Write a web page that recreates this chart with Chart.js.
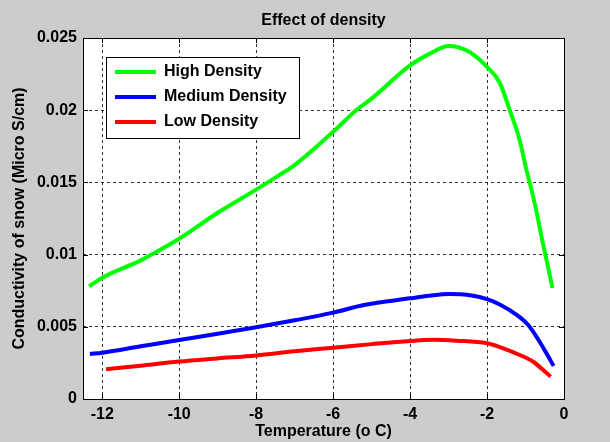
<!DOCTYPE html>
<html>
<head>
<meta charset="utf-8">
<script src="https://cdn.jsdelivr.net/npm/chart.js@4/dist/chart.umd.min.js"></script>
<style>
  html, body { margin: 0; padding: 0; background: #cccccc; }
  #wrap { width: 610px; height: 442px; }
</style>
</head>
<body>
<div id="wrap"><canvas id="snow" width="610" height="442"></canvas></div>
<script>
// values
const highTemp = [-12.34, -12, -11, -10.72, -10, -9, -8, -7.4, -7, -6, -5.4, -5, -4, -3.5, -3, -2.5, -2, -1.67, -1.41, -1.15, -0.98, -0.8, -0.67, -0.59, -0.46, -0.3];
const highCond = [0.0078, 0.0084, 0.0096, 0.0100, 0.0111, 0.0129, 0.0145, 0.0155, 0.0162, 0.0185, 0.0200, 0.0208, 0.0231, 0.0239, 0.02445, 0.0241, 0.0230, 0.0219, 0.0200, 0.0179, 0.0159, 0.0140, 0.0124, 0.0113, 0.0097, 0.0077];

const medTemp = [-12.32, -12, -11, -10, -9, -8, -7, -6, -5.2, -4, -3.5, -3, -2.4, -2, -1.67, -1.24, -0.93, -0.67, -0.46, -0.27];
const medCond = [0.00312, 0.00321, 0.00365, 0.00409, 0.00452, 0.00497, 0.00545, 0.00598, 0.00651, 0.00697, 0.00715, 0.00727, 0.00717, 0.00692, 0.00655, 0.00585, 0.00512, 0.00412, 0.00318, 0.00229];

const lowTemp = [-11.9, -11, -10, -9, -8, -7, -6, -5, -4, -3.4, -2.8, -2, -1.58, -1.15, -0.8, -0.54, -0.35];
const lowCond = [0.00206, 0.00231, 0.00259, 0.00281, 0.00302, 0.00331, 0.00355, 0.00380, 0.00402, 0.00410, 0.00404, 0.00386, 0.00351, 0.00305, 0.00258, 0.00201, 0.00155];

const seriesNames = ['High Density', 'Medium Density', 'Low Density'];
const xTicks = [-12, -10, -8, -6, -4, -2, 0];

const font = { family: '"Liberation Sans", Arial, sans-serif', size: 16, weight: 'bold' };

function points(xs, ys) {
  return xs.map((x, i) => ({ x: x, y: ys[i] }));
}

function series(label, xs, ys, color) {
  return {
    label: label,
    data: points(xs, ys),
    borderColor: color,
    backgroundColor: color,
    borderWidth: 4,
    pointRadius: 0,
    cubicInterpolationMode: 'monotone'
  };
}

// grey figure, white axes, boxed axes with inward ticks, framed legend
const matlabLook = {
  id: 'matlabLook',
  beforeDraw(chart) {
    const { ctx, chartArea: a } = chart;
    ctx.save();
    ctx.fillStyle = '#cccccc';
    ctx.fillRect(0, 0, chart.width, chart.height);
    ctx.fillStyle = '#ffffff';
    ctx.fillRect(a.left, a.top, a.right - a.left, a.bottom - a.top);
    ctx.restore();
  },
  afterLayout(chart) {
    const lg = chart.legend;
    const w = lg.width, h = lg.height;
    lg.left = 106; lg.top = 55;
    lg.right = lg.left + w; lg.bottom = lg.top + h;
  },
  beforeDatasetsDraw(chart) {
    const { ctx } = chart;
    const hb = chart.legend.legendHitBoxes;
    if (!hb || !hb.length) return;
    const last = hb[hb.length - 1];
    const l = hb[0].left - 9;
    const t = hb[0].top - 7;
    const r = Math.max(...hb.map(b => b.left + b.width)) + 12;
    const b = last.top + last.height + 8;
    ctx.save();
    ctx.fillStyle = '#ffffff';
    ctx.fillRect(l, t, r - l, b - t);
    ctx.strokeStyle = '#000000';
    ctx.lineWidth = 1;
    ctx.strokeRect(Math.round(l) + 0.5, Math.round(t) + 0.5, Math.round(r - l), Math.round(b - t));
    ctx.restore();
    chart.legend.draw();
  },
  afterDraw(chart) {
    const { ctx, chartArea: a, scales } = chart;
    ctx.save();
    ctx.strokeStyle = '#000000';
    ctx.lineWidth = 1;
    ctx.beginPath();
    scales.x.ticks.forEach(t => {
      const px = Math.round(scales.x.getPixelForValue(t.value)) + 0.5;
      ctx.moveTo(px, a.bottom); ctx.lineTo(px, a.bottom - 5);
      ctx.moveTo(px, a.top); ctx.lineTo(px, a.top + 5);
    });
    scales.y.ticks.forEach(t => {
      const py = Math.round(scales.y.getPixelForValue(t.value)) + 0.5;
      ctx.moveTo(a.left, py); ctx.lineTo(a.left + 5, py);
      ctx.moveTo(a.right, py); ctx.lineTo(a.right - 5, py);
    });
    ctx.stroke();
    ctx.strokeRect(Math.round(a.left) + 0.5, Math.round(a.top) + 0.5,
      Math.round(a.right - a.left), Math.round(a.bottom - a.top));
    ctx.restore();
  }
};

Chart.defaults.color = '#000000';

new Chart(document.getElementById('snow'), {
  type: 'line',
  data: {
    datasets: [
      series(seriesNames[0], highTemp, highCond, '#00ff00'),
      series(seriesNames[1], medTemp, medCond, '#0000ff'),
      series(seriesNames[2], lowTemp, lowCond, '#ff0000')
    ]
  },
  options: {
    responsive: false,
    animation: false,
    events: [],
    layout: { padding: { left: 0, top: 0, right: 46, bottom: 0 } },
    plugins: {
      title: {
        display: true,
        text: 'Effect of density',
        fullSize: false,
        color: '#000000',
        font: font,
        padding: { top: 11, bottom: 7.8 }
      },
      legend: {
        display: true,
        position: 'chartArea',
        align: 'start',
        labels: {
          font: font,
          color: '#000000',
          boxWidth: 41,
          boxHeight: 4,
          padding: 9,
          generateLabels(chart) {
            return Chart.defaults.plugins.legend.labels.generateLabels(chart)
              .map(item => Object.assign(item, { lineWidth: 0 }));
          }
        }
      },
      tooltip: { enabled: false }
    },
    scales: {
      x: {
        type: 'linear',
        min: -12.5,
        max: 0,
        afterFit(scale) { scale.height = 43; },
        afterBuildTicks(scale) { scale.ticks = xTicks.map(v => ({ value: v })); },
        ticks: { font: font, color: '#000000', padding: 6, includeBounds: false },
        grid: { color: 'rgba(0,0,0,0.8)', drawTicks: false, z: -1 },
        border: { display: false, dash: [3, 3] },
        title: { display: true, text: 'Temperature (o C)', font: font, color: '#000000', padding: { top: 0, bottom: 1 } }
      },
      y: {
        min: 0,
        max: 0.025,
        afterFit(scale) { scale.width = 83; },
        ticks: {
          stepSize: 0.005,
          font: font,
          color: '#000000',
          padding: 6,
          callback: v => String(+v.toFixed(3))
        },
        grid: { color: 'rgba(0,0,0,0.8)', drawTicks: false, z: -1 },
        border: { display: false, dash: [3, 3] },
        title: { display: true, text: 'Conductivity of snow (Micro S/cm)', font: font, color: '#000000', padding: { top: 10, bottom: 0 } }
      }
    }
  },
  plugins: [matlabLook]
});
</script>
</body>
</html>
